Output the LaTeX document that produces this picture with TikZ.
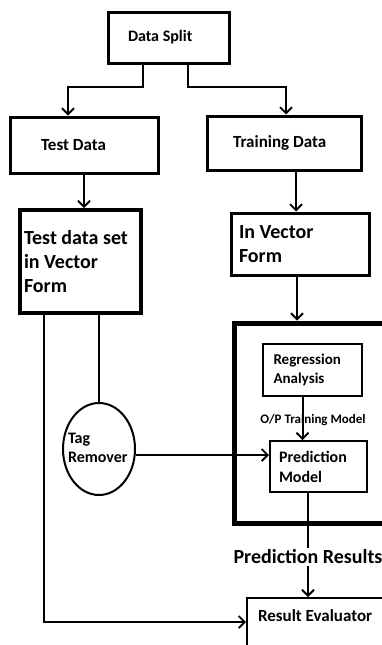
\documentclass[tikz,border=0pt]{standalone}
\usepackage{fontspec}
\setmainfont{Carlito}
\usetikzlibrary{arrows.meta,shapes.geometric}

\tikzset{
	box/.style={draw, line width=3pt, inner sep=0pt, align=flush left},
	thinbox/.style={draw, line width=2pt, inner sep=0pt, align=flush left},
	link/.style={line width=2pt},
	>={Straight Barb[length=6pt, width=12pt, line width=1.8pt]},
}

\begin{document}
\begin{tikzpicture}[x=1pt, y=-1pt, font=\bfseries]
		\useasboundingbox (0,0) rectangle (382,645);
		\clip (0,0) rectangle (382,645);

		% split and the two data sets
		\node[box, minimum width=121, minimum height=51, text width=81,
			font=\bfseries\fontsize{16}{19}\selectfont] (split) at (168.5,37.5) {Data Split};
		\node[box, minimum width=148, minimum height=56, text width=86,
			font=\bfseries\fontsize{17}{20}\selectfont] (test) at (84,145) {Test Data};
		\node[box, minimum width=154, minimum height=54, text width=102,
			font=\bfseries\fontsize{17}{20}\selectfont] (train) at (284,143) {Training Data};

		% vector forms
		\node[box, line width=4pt, minimum width=121, minimum height=103, text width=113,
			font=\bfseries\fontsize{20}{24}\selectfont] (testvec) at (80.5,261.5) {Test data set\\in Vector\\Form};
		\node[box, minimum width=138, minimum height=62, text width=122,
			font=\bfseries\fontsize{20}{24}\selectfont] (invec) at (300,244) {In Vector\\Form};

		% model block, open to the right
		\node[draw, line width=5pt, minimum width=300, minimum height=200] (model) at (384,423) {};
		\node[thinbox, minimum width=99, minimum height=52, text width=78,
			font=\bfseries\fontsize{15}{19}\selectfont] (reg) at (312.5,370) {Regression\\Analysis};
		\node[thinbox, minimum width=97, minimum height=51, text width=79,
			font=\bfseries\fontsize{16}{20}\selectfont] (pred) at (318.5,466.5) {Prediction\\Model};
		\node[fill=white, inner sep=0pt, font=\bfseries\fontsize{13}{15}\selectfont] (oplabel) at (313,420) {O/P Training Model};

		% tag remover
		\node[draw, ellipse, line width=2pt, minimum width=72, minimum height=92, inner sep=0pt] (tag) at (99,449) {};
		\node[text width=62, align=flush left, inner sep=0pt,
			font=\bfseries\fontsize{16}{19}\selectfont] (tagtxt) at (99,448) {Tag\\Remover};

		% results
		\node[fill=white, inner sep=2pt, font=\bfseries\fontsize{20}{24}\selectfont] (results) at (308,557) {Prediction Results};
		\node[thinbox, anchor=north west, inner xsep=11pt, inner ysep=12pt, text width=150, text depth=40pt,
			font=\bfseries\fontsize{17}{20}\selectfont] (eval) at (246,597) {Result Evaluator};

		% connectors
		\draw[link, ->] ([xshift=-25.5]split.south) -- ++(0,22) -| ([xshift=-16]test.north);
		\draw[link, ->] ([xshift=19.5]split.south) -- ++(0,22) -| ([xshift=2]train.north);
		\draw[link, ->] (test.south) -- (test.south |- testvec.north);
		\draw[link, ->] ([xshift=12]train.south) -- ([xshift=12]train.south |- invec.north);
		\draw[link, ->] ([xshift=-3]invec.south) -- ([xshift=-3]invec.south |- model.north);
		\draw[link] (tag.north |- testvec.south) -- (tag.north);
		\draw[link, ->] ([xshift=-36.5]testvec.south) |- ([yshift=-25]eval.north west);
		\draw[link, ->] ([yshift=-6]tag.east) -- ([yshift=-6]tag.east -| pred.west);
		\draw[link, ->] ([xshift=-10]reg.south) -- ([xshift=-10]reg.south |- pred.north);
		\draw[link] (results |- pred.south) -- (results.north);
		\draw[link, ->] (results.south) -- (results |- eval.north);
\end{tikzpicture}
\end{document}
